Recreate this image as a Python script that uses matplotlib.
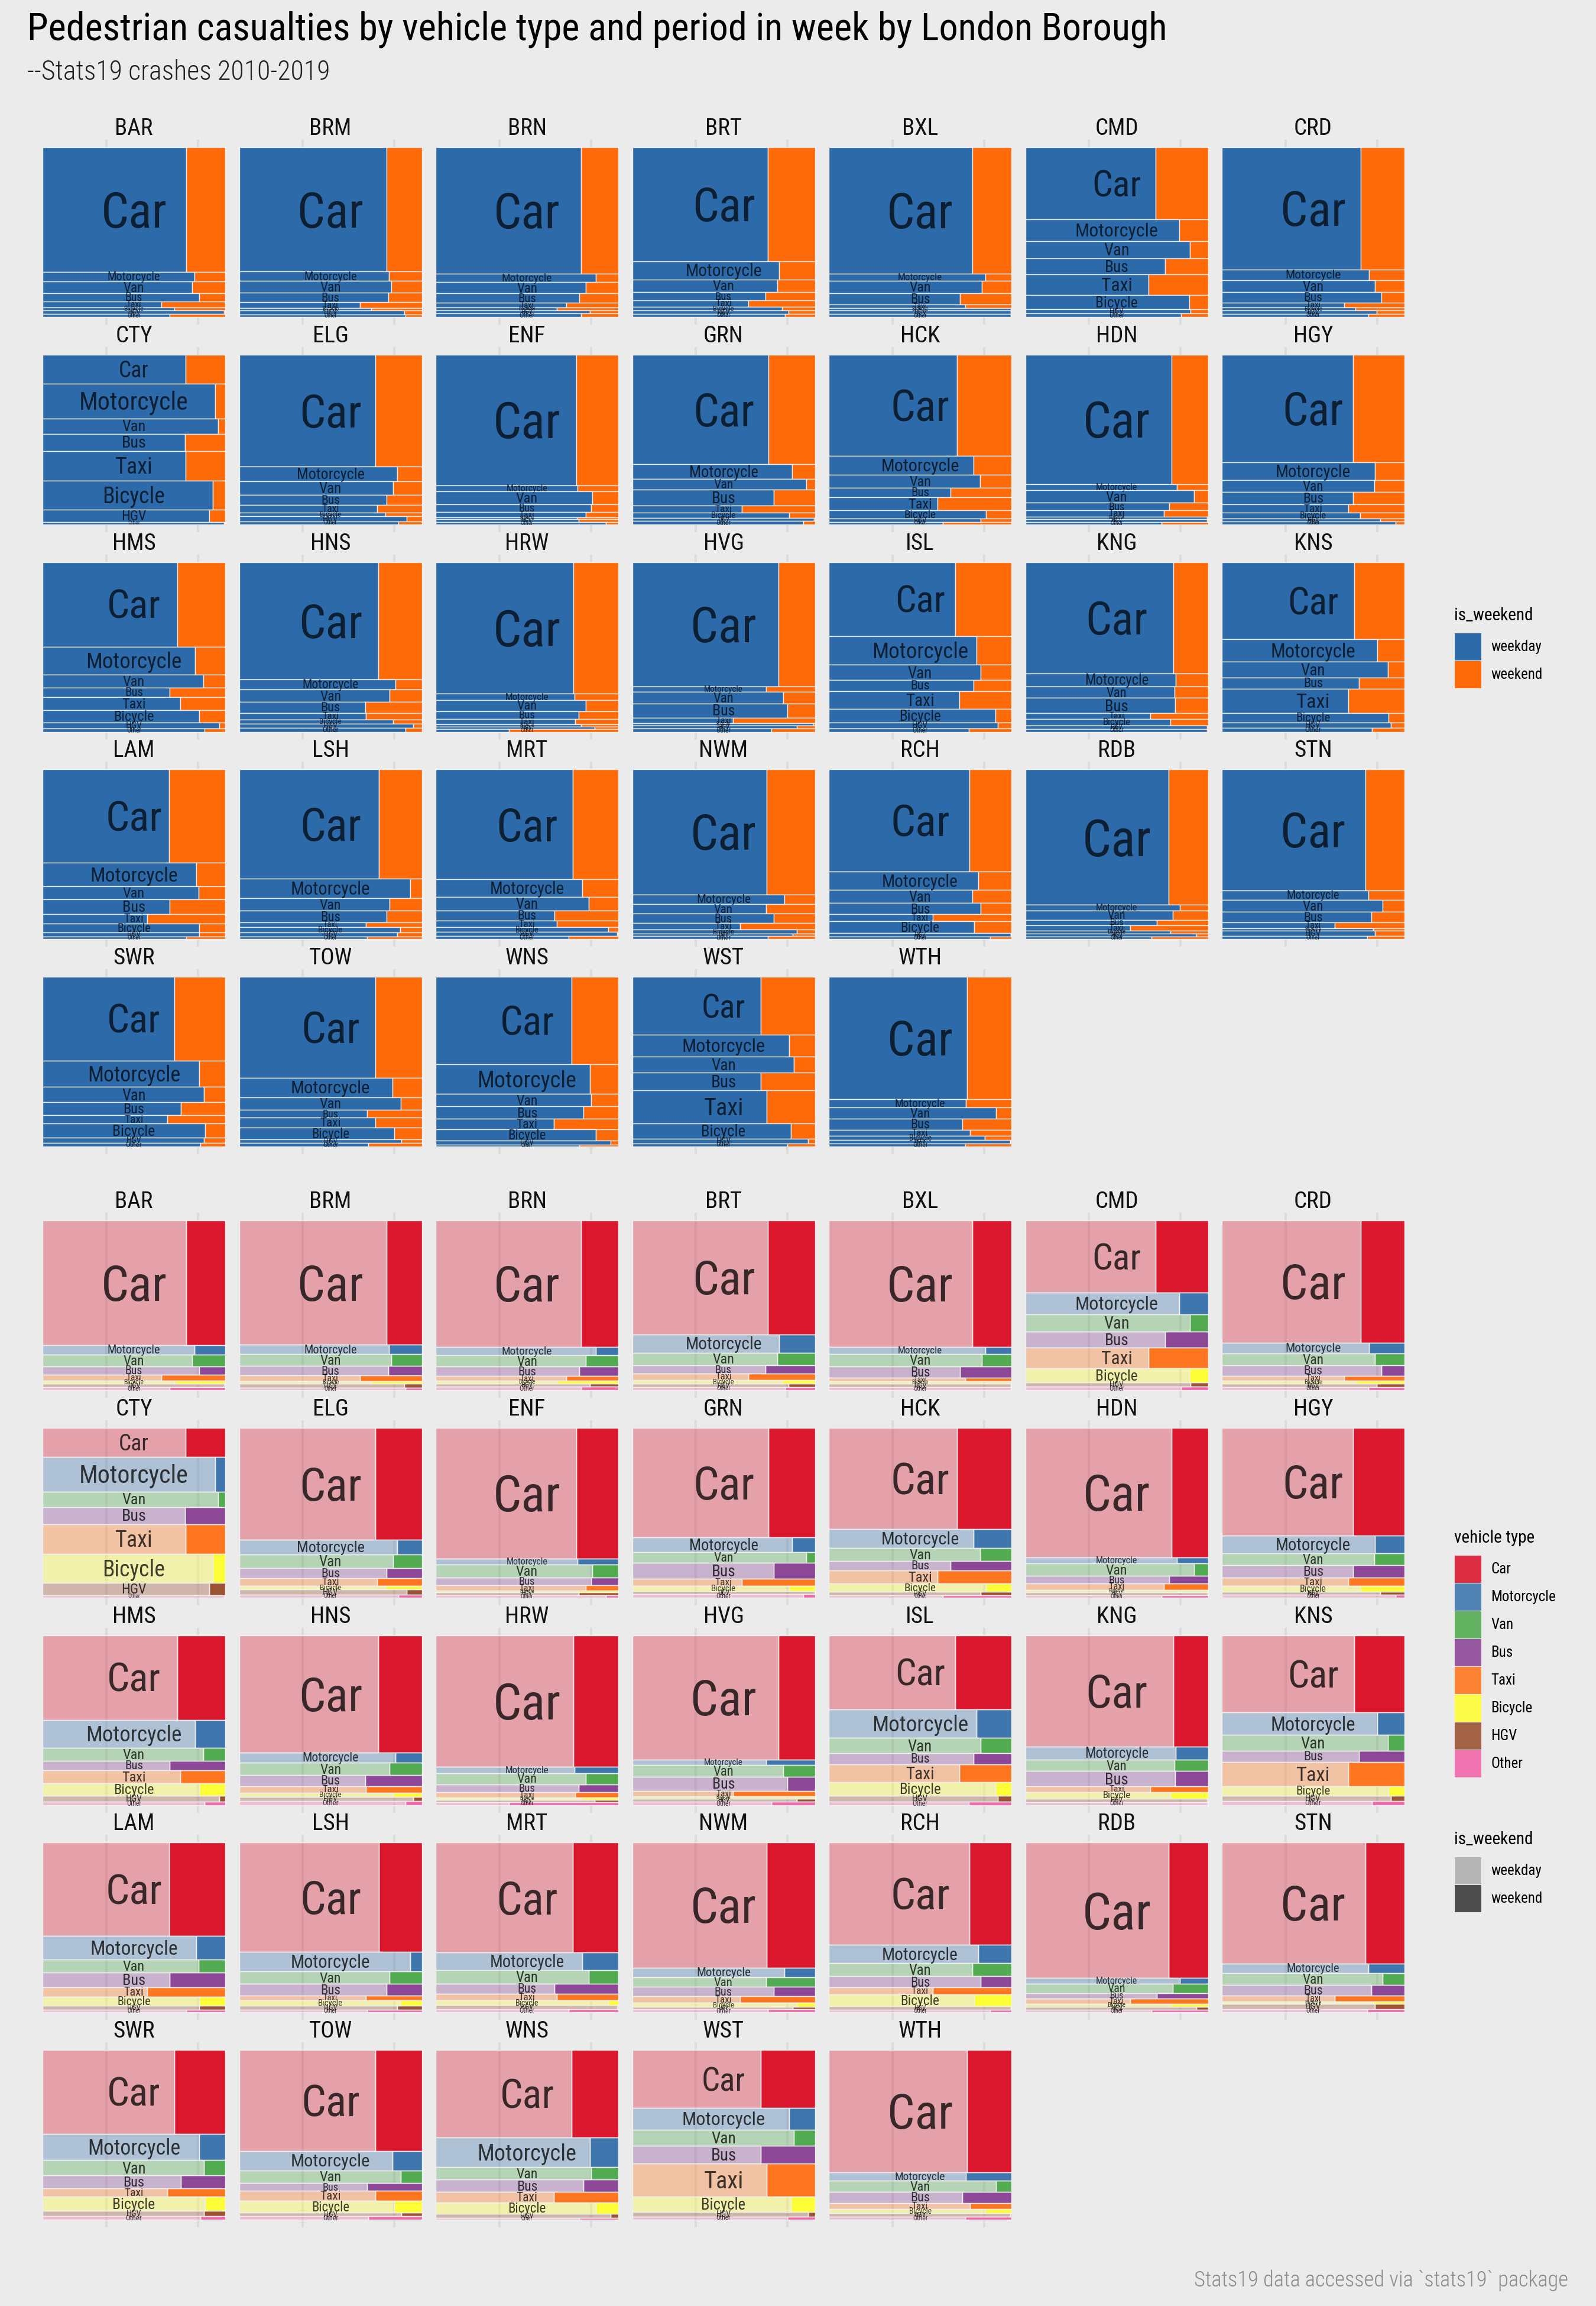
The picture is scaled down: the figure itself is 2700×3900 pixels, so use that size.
import matplotlib
matplotlib.use('Agg')
import matplotlib.pyplot as plt
from matplotlib.patches import Patch

BG = '#EBEBEB'
plt.rcParams['font.family'] = ['Roboto Condensed', 'Liberation Sans Narrow', 'Roboto']

VEHICLES = ['Car', 'Motorcycle', 'Van', 'Bus', 'Taxi', 'Bicycle', 'HGV', 'Other']
VEHICLE_COLOURS = ['#DB122A', '#3B74AD', '#4FA94E', '#8A4596', '#FF751C', '#FFFF33', '#9B5030', '#F264A8']
WEEK_COLOURS = ['#2D6AA9', '#FF6A09']

BOROUGHS = ['BAR', 'BRM', 'BRN', 'BRT', 'BXL', 'CMD', 'CRD',
            'CTY', 'ELG', 'ENF', 'GRN', 'HCK', 'HDN', 'HGY',
            'HMS', 'HNS', 'HRW', 'HVG', 'ISL', 'KNG', 'KNS',
            'LAM', 'LSH', 'MRT', 'NWM', 'RCH', 'RDB', 'STN',
            'SWR', 'TOW', 'WNS', 'WST', 'WTH']

# casualties per vehicle type, relative size
COUNTS = [
    [502, 37, 47, 35, 22, 14, 14, 11],
    [500, 37, 48, 38, 24, 10, 15, 10],
    [507, 34, 46, 38, 19, 10, 13, 14],
    [458, 74, 51, 32, 26, 15, 14, 12],
    [509, 27, 50, 45, 16, 10, 14, 11],
    [291, 86, 70, 64, 84, 56, 17, 14],
    [493, 41, 49, 41, 21, 12, 13, 12],
    [116, 142, 60, 69, 120, 116, 50, 9],
    [450, 59, 55, 41, 29, 16, 21, 11],
    [526, 23, 52, 31, 22, 8, 10, 10],
    [439, 61, 43, 64, 28, 21, 13, 13],
    [406, 77, 51, 39, 52, 33, 15, 9],
    [521, 24, 50, 31, 25, 9, 12, 10],
    [433, 71, 48, 49, 33, 24, 13, 11],
    [340, 112, 52, 39, 51, 52, 23, 13],
    [471, 42, 49, 44, 26, 17, 17, 16],
    [529, 26, 44, 32, 22, 8, 10, 11],
    [501, 21, 46, 58, 22, 8, 13, 13],
    [299, 113, 63, 43, 73, 55, 22, 14],
    [447, 53, 46, 62, 22, 26, 14, 12],
    [311, 90, 64, 44, 98, 38, 21, 16],
    [375, 95, 52, 60, 37, 36, 16, 11],
    [439, 79, 50, 46, 20, 21, 16, 11],
    [442, 70, 54, 42, 26, 19, 15, 14],
    [502, 39, 39, 37, 27, 16, 9, 13],
    [411, 73, 53, 45, 28, 48, 13, 11],
    [544, 24, 36, 23, 20, 12, 13, 10],
    [487, 37, 48, 43, 23, 10, 22, 12],
    [425, 133, 77, 65, 43, 72, 25, 20],
    [511, 99, 65, 39, 51, 57, 20, 18],
    [443, 151, 63, 63, 52, 58, 20, 10],
    [294, 109, 81, 91, 167, 78, 24, 16],
    [620, 43, 56, 55, 31, 22, 16, 17],
]

# share of each row that falls on a weekday
WEEKDAY = [
    [.787, .831, .818, .856, .649, .721, .992, .696],
    [.809, .820, .834, .818, .663, .724, .906, .912],
    [.796, .878, .823, .787, .715, .663, .845, .796],
    [.743, .804, .796, .729, .635, .820, .856, .837],
    [.785, .858, .837, .720, .749, .996, .996, .996],
    [.714, .843, .902, .764, .674, .898, .904, .852],
    [.762, .806, .837, .875, .670, .733, .848, .804],
    [.782, .945, .961, .779, .782, .931, .914, .992],
    [.746, .865, .843, .809, .757, .801, .917, .873],
    [.771, .776, .856, .851, .823, .773, .782, .931],
    [.745, .875, .953, .776, .601, .859, .994, .936],
    [.701, .793, .827, .668, .597, .860, .831, .624],
    [.800, .829, .925, .789, .760, .994, .994, .747],
    [.720, .837, .835, .720, .693, .756, .866, .952],
    [.738, .834, .881, .696, .754, .856, .967, .887],
    [.762, .856, .823, .691, .693, .843, .953, .912],
    [.754, .760, .823, .782, .765, .796, .870, .401],
    [.801, .732, .826, .848, .552, .992, .901, .762],
    [.691, .810, .831, .793, .714, .914, .927, .766],
    [.812, .825, .816, .820, .685, .795, .994, .994],
    [.724, .852, .908, .752, .693, .914, .927, .823],
    [.691, .840, .854, .696, .572, .856, .856, .785],
    [.765, .936, .823, .809, .693, .881, .867, .702],
    [.751, .804, .837, .652, .663, .945, .992, .729],
    [.735, .834, .732, .776, .591, .901, .878, .743],
    [.770, .820, .787, .833, .570, .797, .996, .883],
    [.785, .846, .806, .720, .574, .795, .937, .691],
    [.785, .802, .879, .818, .618, .829, .837, .797],
    [.723, .858, .882, .758, .682, .889, .882, .865],
    [.747, .841, .886, .702, .747, .848, .889, .706],
    [.743, .844, .851, .809, .646, .878, .958, .785],
    [.705, .858, .885, .705, .736, .868, .962, .851],
    [.757, .750, .917, .733, .774, .854, .993, .747],
]

W, H = 2700, 3900
fig = plt.figure(figsize=(W / 100, H / 100), dpi=100, facecolor=BG)


def add_panel(col, row, top):
    # panel in pixels, with the 4.5% expansion around the mosaic
    left = 72 + col * 332.5
    y0 = top + row * 350.8
    pad_x, pad_y = 309 * 0.045, 287 * 0.045
    ax = fig.add_axes([(left - pad_x) / W, 1 - (y0 + 287 + pad_y) / H,
                       (309 + 2 * pad_x) / W, (287 + 2 * pad_y) / H])
    ax.set_xlim(-0.045, 1.045)
    ax.set_ylim(1.045, -0.045)
    ax.patch.set_alpha(0)
    for s in ax.spines.values():
        s.set_visible(False)
    ax.set_xticks([0.348, 0.85])
    ax.set_yticks([])
    ax.tick_params(length=0, labelbottom=False)
    ax.grid(axis='x', color='#DCDCDC', lw=2.9, zorder=0)
    ax.set_axisbelow(True)
    return ax


def draw_block(top, colour_by_vehicle):
    for i, name in enumerate(BOROUGHS):
        ax = add_panel(i % 7, i // 7, top)
        total = sum(COUNTS[i])
        y = 0
        for j, vehicle in enumerate(VEHICLES):
            h = COUNTS[i][j] / total
            wd = WEEKDAY[i][j]
            if colour_by_vehicle:
                c = VEHICLE_COLOURS[j]
                ax.barh(y + h / 2, wd, h, color=c, alpha=0.34, edgecolor='none', zorder=2)
                ax.barh(y + h / 2, 1 - wd, h, left=wd, color=c, alpha=0.98, edgecolor='none', zorder=2)
                ax.barh(y + h / 2, [wd, 1 - wd], h, left=[0, wd], color='none', edgecolor='#F0F0F0', lw=1.0, zorder=3)
                txt_alpha = 0.75
            else:
                ax.barh(y + h / 2, [wd, 1 - wd], h, left=[0, wd], color=WEEK_COLOURS,
                        edgecolor='#EEEEEE', lw=1.0, zorder=2)
                txt_alpha = 0.7
            ax.text(0.5, y + h / 2 - 0.004, vehicle, ha='center', va='center_baseline', color='black', alpha=txt_alpha,
                    fontsize=70.5 * (h ** 0.54), zorder=4)
            y += h
        ax.text(0.5, -0.045, name, ha='center', va='bottom', fontsize=28, color='#111111', clip_on=False)


draw_block(249, False)
draw_block(2064, True)

fig.text(46 / W, 1 - 50 / H, 'Pedestrian casualties by vehicle type and period in week by London Borough',
         fontsize=46.3, va='center', ha='left', color='black')
fig.text(46 / W, 1 - 122 / H, '--Stats19 crashes 2010-2019', fontsize=33, va='center', ha='left', color='#222222',
         fontweight='light')
fig.text(2653 / W, 1 - 3857 / H, 'Stats19 data accessed via `stats19` package', fontsize=26.3, va='center', ha='right',
         color='#8C8C8C', fontweight='light')


def add_legend(title, labels, colours, top, alpha=0.88):
    handles = [Patch(facecolor=c, edgecolor='#EEEEEE', lw=0.8, alpha=alpha) for c in colours]
    fs = 18
    px = fs * 100 / 72
    leg = fig.legend(handles=handles, labels=labels, title=title, loc='upper left',
                     bbox_to_anchor=(2460 / W, 1 - top / H), frameon=False, borderpad=0, borderaxespad=0,
                     fontsize=fs, title_fontsize=21, alignment='left', handlelength=46 / px,
                     handleheight=(47 / px - 0.245) / 0.65, handletextpad=16 / px, labelspacing=0)
    leg._legend_box.sep = 11


add_legend('is_weekend', ['weekday', 'weekend'], WEEK_COLOURS, 1027, alpha=1)
add_legend('vehicle type', VEHICLES, VEHICLE_COLOURS, 2587)
add_legend('is_weekend', ['weekday', 'weekend'], ['#B5B5B5', '#4D4D4D'], 3097, alpha=1)

fig.savefig('out.png', facecolor=BG)
